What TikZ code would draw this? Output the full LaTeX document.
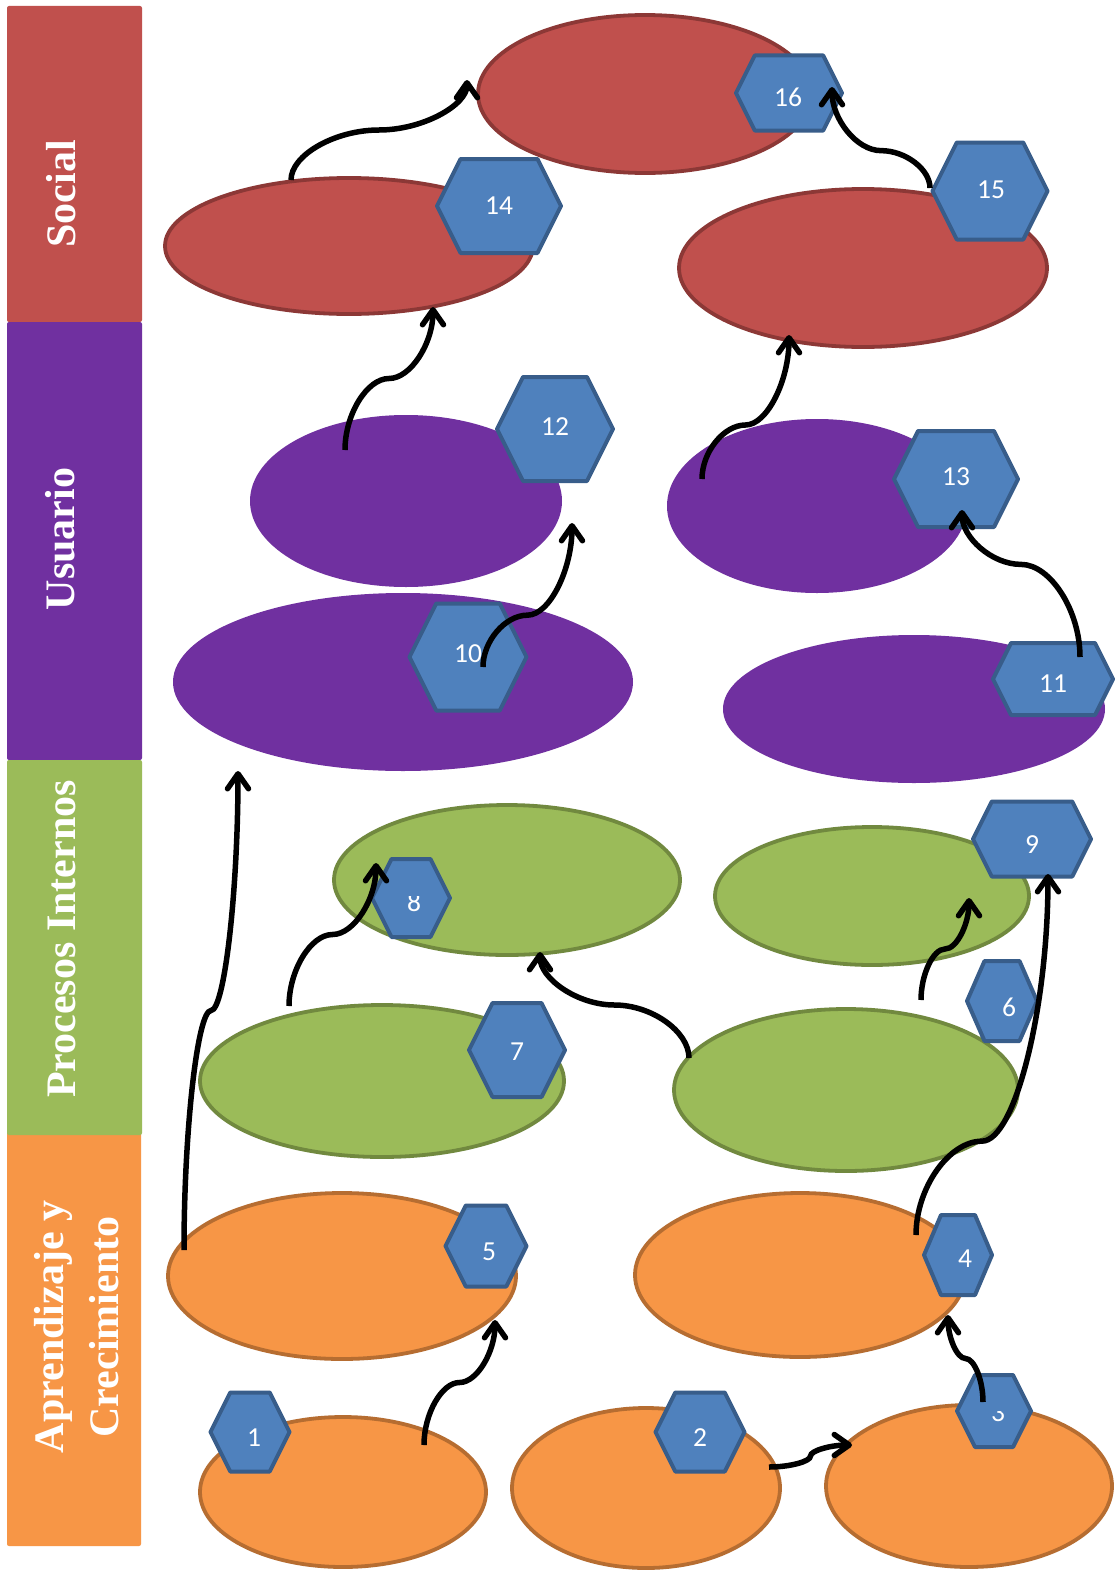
\documentclass[tikz,border=0pt]{standalone}
\usepackage{fontspec}
\setmainfont{Liberation Serif}
\newfontfamily\numfont{Carlito}
\usetikzlibrary{shapes.geometric,arrows.meta,calc}

\definecolor{redfill}{HTML}{C0504D}
\definecolor{redline}{HTML}{8C3836}
\definecolor{purplefill}{HTML}{7030A0}
\definecolor{greenfill}{HTML}{9BBB59}
\definecolor{greenline}{HTML}{71893F}
\definecolor{orangefill}{HTML}{F79646}
\definecolor{orangeline}{HTML}{B66D31}
\definecolor{hexfill}{HTML}{4F81BD}
\definecolor{hexline}{HTML}{385D8A}

% flat-topped hexagon: centre x, centre y, width, height
\newcommand\hexat[4]{%
  \pgfmathsetmacro\hxa{#1-#3/2}\pgfmathsetmacro\hxb{#1+#3/2}%
  \pgfmathsetmacro\hin{0.25*min(#3,#4)}%
  \pgfmathsetmacro\hya{#2-#4/2}\pgfmathsetmacro\hyb{#2+#4/2}%
  \path[hexshape] (\hxa,#2) -- (\hxa+\hin,\hya) -- (\hxb-\hin,\hya) -- (\hxb,#2)
    -- (\hxb-\hin,\hyb) -- (\hxa+\hin,\hyb) -- cycle;
}

\tikzset{
  band/.style={rounded corners=2pt},
  bandtext/.style={rotate=90, text=white, inner sep=0pt, align=center,
    font=\fontsize{42}{55}\selectfont\bfseries},
  oval/.style={ellipse, inner sep=0pt, line width=3.8pt},
  redoval/.style={oval, fill=redfill, draw=redline},
  purpleoval/.style={oval, fill=purplefill},
  greenoval/.style={oval, fill=greenfill, draw=greenline},
  orangeoval/.style={oval, fill=orangefill, draw=orangeline},
  hexshape/.style={fill=hexfill, draw=hexline, line width=4pt, line join=round},
  hexlabel/.style={text=white, inner sep=0pt, font=\numfont\fontsize{27.5}{30}\selectfont},
  link/.style={line width=5.5pt, -{Straight Barb[length=15pt,width=21pt,round]}},
  % curved elbow connector leaving and entering vertically
  vlink/.style={to path={let \p1=(\tikztostart), \p2=(\tikztotarget),
      \p3=($(\tikztostart)!#1!(\tikztotarget)$),
      \p4=($(\tikztostart)!0.5!(\tikztotarget)$) in
      .. controls (\x1,{(\y1+\y3)/2}) and ({(\x1+\x4)/2},\y3) .. (\x4,\y3)
      .. controls ({(\x4+\x2)/2},\y3) and (\x2,{(\y3+\y2)/2}) .. (\x2,\y2)}},
  vlink/.default=0.5,
  % curved elbow connector leaving and entering horizontally
  hlink/.style={to path={let \p1=(\tikztostart), \p2=(\tikztotarget),
      \p3=($(\tikztostart)!#1!(\tikztotarget)$),
      \p4=($(\tikztostart)!0.5!(\tikztotarget)$) in
      .. controls ({(\x1+\x3)/2},\y1) and (\x3,{(\y1+\y4)/2}) .. (\x3,\y4)
      .. controls (\x3,{(\y4+\y2)/2}) and ({(\x3+\x2)/2},\y2) .. (\x2,\y2)}},
  hlink/.default=0.5,
}

\begin{document}
\begin{tikzpicture}[x=1pt,y=-1pt]
\fill[white] (0,0) rectangle (1114,1571);
\useasboundingbox (0,0) rectangle (1114,1571);

% perspective bands
\fill[redfill, band] (7,6) rectangle (142,322);
\fill[purplefill, band] (7,322) rectangle (142,760);
\fill[orangefill, band] (7,1118) rectangle (141,1546);
\fill[greenfill, band] (7,760) rectangle (142,1135);
\node[bandtext, anchor=base] (social) at (75,194) {Social};
\node[bandtext, anchor=base] (usuario) at (74,539) {Usuario};
\node[bandtext, anchor=base] (procesos) at (75,939) {Procesos Internos};
\node[bandtext] (aprendizaje) at (77,1327) {Aprendizaje y\\Crecimiento};

% objectives
\node[redoval, minimum width=334, minimum height=158] (e16) at (645,94) {};
\node[redoval, minimum width=368, minimum height=136] (e14) at (349,246) {};
\node[redoval, minimum width=368, minimum height=158] (e15) at (863,268) {};

\node[purpleoval, minimum width=312, minimum height=172] (e12) at (406,501) {};
\node[purpleoval, minimum width=460, minimum height=178] (e10) at (403,682) {};
\node[purpleoval, minimum width=300, minimum height=174] (e13) at (817,506) {};
\node[purpleoval, minimum width=382, minimum height=148] (e11) at (914,709) {};

\node[greenoval, minimum width=346, minimum height=150] (e8) at (507,880) {};
\node[greenoval, minimum width=364, minimum height=152] (e7) at (382,1081) {};
\node[greenoval, minimum width=314, minimum height=138] (e9) at (872,896) {};
\node[greenoval, minimum width=344, minimum height=162] (e6) at (846,1090) {};

\node[orangeoval, minimum width=348, minimum height=166] (e5) at (342,1276) {};
\node[orangeoval, minimum width=330, minimum height=164] (e4) at (800,1275) {};
\node[orangeoval, minimum width=286, minimum height=150] (e1) at (343,1492) {};
\node[orangeoval, minimum width=268, minimum height=160] (e2) at (646,1488) {};
\node[orangeoval, minimum width=286, minimum height=162] (e3) at (969,1486) {};

% numbered hexagons
\hexat{789}{93}{106}{75}
\hexat{499}{206}{124}{94}
\hexat{990}{191}{115}{97}
\hexat{555}{429}{116}{104}
\hexat{468}{657}{117}{107}
\hexat{956}{479}{124}{96}
\hexat{1053}{679}{120}{72}
\hexat{1032}{839}{118}{75}
\hexat{411}{898}{78}{78}
\hexat{517}{1050}{96}{94}
\hexat{1002}{1001}{70}{80}
\hexat{486}{1246}{81}{81}
\hexat{958}{1255}{68}{80}
\hexat{250}{1432}{79}{79}
\hexat{700}{1432}{89}{79}
\hexat{994}{1411}{74}{72}

\node[hexlabel] (n16) at (788,97) {16};
\node[hexlabel] (n14) at (499,206) {14};
\node[hexlabel] (n15) at (991,190) {15};
\node[hexlabel] (n12) at (555,427) {12};
\node[hexlabel] (n10) at (468,654) {10};
\node[hexlabel] (n13) at (956,477) {13};
\node[hexlabel] (n11) at (1053,684) {11};
\node[hexlabel] (n9) at (1032,845) {9};
\begin{scope}
  \clip (380,896) rectangle (450,940);
  \node[hexlabel] (n8) at (414,902) {8};
\end{scope}
\node[hexlabel] (n7) at (517,1052) {7};
\node[hexlabel] (n6) at (1009,1007) {6};
\node[hexlabel] (n5) at (489,1252) {5};
\node[hexlabel] (n4) at (965,1259) {4};
\node[hexlabel] (n1) at (254,1438) {1};
\node[hexlabel] (n2) at (700,1438) {2};
\begin{scope}
  \clip (960,1411.5) rectangle (1035,1450);
  \node[hexlabel] (n3) at (998,1413) {3};
\end{scope}

% connector end points
\coordinate (a1) at (424,1445);  \coordinate (b1) at (495,1320);
\coordinate (a2) at (769,1467);  \coordinate (b2) at (852,1445);
\coordinate (a3) at (983,1402);  \coordinate (b3) at (948,1315);
\coordinate (a4) at (916,1235);  \coordinate (b4) at (1048,874);
\coordinate (a5) at (689,1058);  \coordinate (b5) at (540,952);
\coordinate (a6) at (921,1000);  \coordinate (b6) at (969,898);
\coordinate (a7) at (289,1006);  \coordinate (b7) at (376,863);
\coordinate (a8) at (184,1250);  \coordinate (b8) at (238,771);
\coordinate (a9) at (483,667);   \coordinate (b9) at (572,523);
\coordinate (a10) at (345,450);  \coordinate (b10) at (433,307);
\coordinate (a11) at (702,479);  \coordinate (b11) at (789,335);
\coordinate (a12) at (1080,657); \coordinate (b12) at (962,510);
\coordinate (a13) at (291,180);  \coordinate (b13) at (467,80);
\coordinate (a14) at (930,188);  \coordinate (b14) at (832,87);

% cause-effect links
\draw[link] (a1) to[vlink] (b1);
\draw[link] (a2) to[hlink] (b2);
\draw[link] (a3) to[vlink] (b3);
\draw[link] (a4) to[vlink=0.26] (b4);
\draw[link] (a5) to[vlink] (b5);
\draw[link] (a6) to[vlink] (b6);
\draw[link] (a7) to[vlink] (b7);
\draw[link] (a8) to[vlink] (b8);
\draw[link] (a9) to[vlink=0.36] (b9);
\draw[link] (a10) to[vlink] (b10);
\draw[link] (a11) to[vlink=0.375] (b11);
\draw[link] (a12) to[vlink=0.63] (b12);
\draw[link] (a13) to[vlink] (b13);
\draw[link] (a14) to[vlink=0.37] (b14);
\end{tikzpicture}
\end{document}
